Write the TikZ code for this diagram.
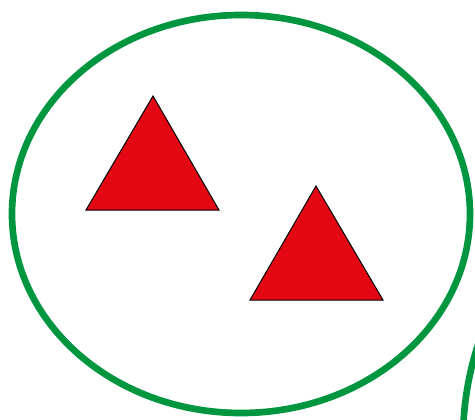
\documentclass[tikz,border=0pt]{standalone}
\begin{document}
\begin{tikzpicture}[x=0.75pt,y=0.75pt,yscale=-1,xscale=1]
        \useasboundingbox (0,0) rectangle (475,419);
        \clip (0,0) rectangle (475,419);
        %set ring
        \draw  [color={rgb, 255:red, 0; green, 150; blue, 64 }  ][line width=5]  (241,214) ellipse (229 and 199) ;
        \draw  [color={rgb, 255:red, 0; green, 150; blue, 64 }  ][line width=5]  (692,440) ellipse (229 and 267) ;
        %triangles
        \draw  [fill={rgb, 255:red, 227; green, 6; blue, 19 }  ][line width=0.75]  (153,96) -- (219,210) -- (86,210) -- cycle ;
        \draw  [fill={rgb, 255:red, 227; green, 6; blue, 19 }  ][line width=0.75]  (316,186) -- (383,300) -- (250,300) -- cycle ;
    \end{tikzpicture}
\end{document}
